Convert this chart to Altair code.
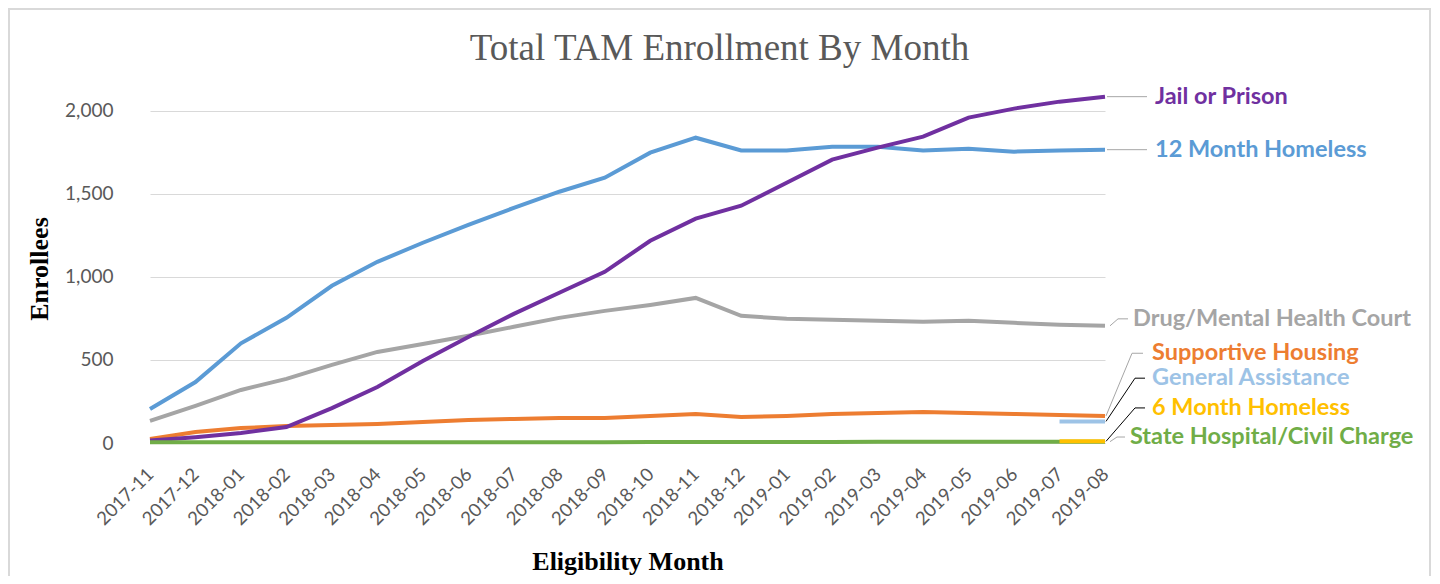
import altair as alt
import pandas as pd

months = ["2017-11", "2017-12", "2018-01", "2018-02", "2018-03", "2018-04",
          "2018-05", "2018-06", "2018-07", "2018-08", "2018-09", "2018-10",
          "2018-11", "2018-12", "2019-01", "2019-02", "2019-03", "2019-04",
          "2019-05", "2019-06", "2019-07", "2019-08"]

homeless_12 = [205, 367, 600, 753, 946, 1090, 1205, 1313, 1415, 1512, 1596, 1747,
               1837, 1760, 1760, 1783, 1783, 1760, 1771, 1753, 1760, 1765]
jail_prison = [15, 35, 60, 96, 210, 337, 494, 638, 777, 904, 1030, 1217,
               1350, 1428, 1566, 1705, 1777, 1843, 1958, 2012, 2054, 2084]
drug_mh_court = [133, 223, 319, 386, 470, 548, 596, 645, 699, 753, 795, 831,
                 873, 765, 747, 741, 735, 729, 735, 723, 711, 705]
supportive_housing = [24, 66, 90, 102, 108, 114, 126, 139, 145, 151, 151, 163,
                      175, 157, 163, 175, 181, 187, 181, 175, 169, 163]
general_assistance = [None] * 20 + [130, 130]
homeless_6 = [None] * 20 + [10, 10]
state_hospital = [5, 5, 5, 5, 5, 5, 5, 5, 5, 5, 5, 6,
                  6, 6, 6, 6, 7, 8, 8, 8, 8, 8]

series_names = ["12 Month Homeless", "Drug/Mental Health Court", "Supportive Housing",
                "Jail or Prison", "General Assistance", "State Hospital/Civil Charge",
                "6 Month Homeless"]
series_values = [homeless_12, drug_mh_court, supportive_housing, jail_prison,
                 general_assistance, state_hospital, homeless_6]
series_colors = ["#5B9BD5", "#A5A5A5", "#ED7D31", "#7030A0", "#9DC3E6", "#70AD47", "#FFC000"]

# label anchor values (in data units) for the right-hand series labels
label_values = [1765, 747, 540, 2084, 390, 36, 211]

# leader-line styles: (diag start, diag end, horiz end, label dx, leader colour)
leader_style = {
    "12 Month Homeless": (2, 2, 42, 50, "#A6A6A6"),
    "Drug/Mental Health Court": (5, 13, 23, 28, "#A6A6A6"),
    "Supportive Housing": (1, 27, 38, 47, "#A6A6A6"),
    "Jail or Prison": (2, 2, 42, 50, "#A6A6A6"),
    "General Assistance": (1, 30, 40, 47, "#000000"),
    "State Hospital/Civil Charge": (5, 12, 20, 25, "#A6A6A6"),
    "6 Month Homeless": (1, 30, 40, 47, "#000000"),
}

W, H = 993, 349
PAD = {"left": 129, "top": 86, "right": 302, "bottom": 133}

x_axis = alt.Axis(labelAngle=-45, labelAlign="right", labelBaseline="middle")
y_axis = alt.Axis(values=[0, 500, 1000, 1500, 2000], format=",.0f")
x_scale = alt.Scale(type="point", range=[13, 968], padding=0)
y_scale = alt.Scale(domain=[0, 2100], nice=False)


def xe():
    return alt.X("month:O", sort=months, title="Eligibility Month", scale=x_scale, axis=x_axis)


def ye(field):
    return alt.Y(field, title="Enrollees", scale=y_scale, axis=y_axis)


layers = []

frame = alt.Chart(pd.DataFrame({"a": [0]})).mark_rect(
    fillOpacity=0, stroke="#D9D9D9", strokeWidth=2
).encode(
    x=alt.value(-128), x2=alt.value(W + PAD["right"] - 2),
    y=alt.value(-PAD["top"] + 1), y2=alt.value(H + PAD["bottom"] + 20)
)
layers.append(frame)

for name, vals, col, lv in zip(series_names, series_values, series_colors, label_values):
    df = pd.DataFrame({"month": months, "value": vals}).dropna()
    line = alt.Chart(df).mark_line(strokeWidth=4, color=col, interpolate="linear").encode(
        x=xe(), y=ye("value:Q")
    )
    layers.append(line)

for name, vals, col, lv in zip(series_names, series_values, series_colors, label_values):
    a, b, c, dx, lc = leader_style[name]
    end_val = [v for v in vals if v is not None][-1]
    ld = pd.DataFrame({"month": [months[-1]], "value": [end_val], "value2": [lv], "name": [name]})
    diag = alt.Chart(ld).mark_rule(color=lc, strokeWidth=1, xOffset=a, x2Offset=b).encode(
        x=xe(), x2="month:O", y=ye("value:Q"), y2="value2:Q",
    )
    horiz = alt.Chart(ld).mark_rule(color=lc, strokeWidth=1, xOffset=b, x2Offset=c).encode(
        x=xe(), x2="month:O", y=ye("value2:Q"),
    )
    txt = alt.Chart(ld).mark_text(
        align="left", baseline="middle", dx=dx, font="Lato", fontWeight="bold",
        fontSize=23.5, color=col
    ).encode(
        x=xe(), y=ye("value2:Q"), text="name:N",
    )
    layers += [diag, horiz, txt]

chart = alt.layer(*layers).properties(
    width=W, height=H,
    autosize=alt.AutoSizeParams(type="none"),
    padding=PAD,
    title=alt.Title("Total TAM Enrollment By Month", font="Liberation Serif", fontSize=37,
                    fontWeight="normal", color="#595959", offset=-60, anchor="middle",
                    frame="bounds"),
).configure_view(stroke=None).configure_axisX(
    labelFont="Lato", labelFontSize=18.5, labelColor="#595959", ticks=False,
    domain=True, domainColor="#D9D9D9", grid=False, labelPadding=28,
    titleFont="Liberation Serif", titleFontSize=26, titleFontWeight="bold",
    titleColor="#000000", titlePadding=20,
).configure_axisY(
    labelFont="Lato", labelFontSize=19, labelColor="#595959", ticks=False,
    domain=False, grid=True, gridColor="#D9D9D9", gridWidth=1, labelPadding=24,
    titleFont="Liberation Serif", titleFontSize=26, titleFontWeight="bold",
    titleColor="#000000", titlePadding=12,
)

chart.save("out.html", embed_options={"renderer": "svg", "actions": False})
